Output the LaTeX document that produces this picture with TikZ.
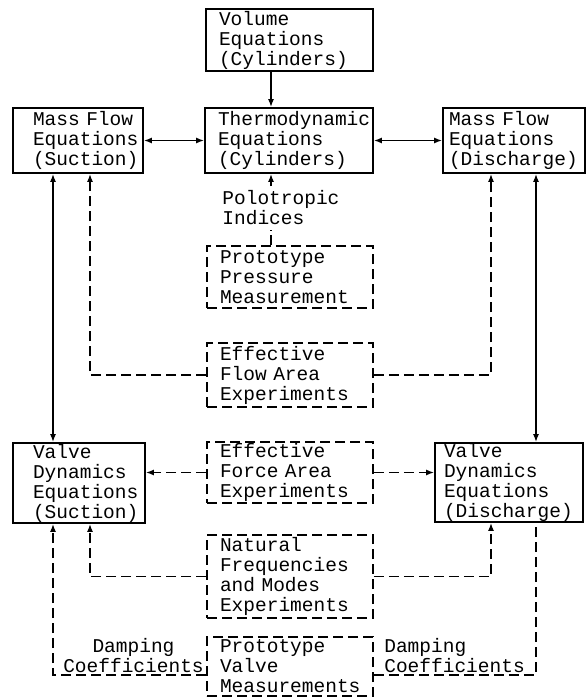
\documentclass[tikz,border=0pt]{standalone}
\usepackage{fontspec}
\setmonofont{Liberation Mono}
\usetikzlibrary{arrows.meta}
\begin{document}
\begin{tikzpicture}[x=0.5pt,y=-0.5pt,
  font=\ttfamily\fontsize{9.75pt}{10pt}\selectfont,
  >={Latex[length=4pt,width=3pt]},
  box/.style={draw, line width=0.9pt, align=left, inner xsep=6.5pt, inner ysep=0pt},
  dbox/.style={box, dash pattern=on 5pt off 2.5pt},
  link/.style={line width=0.7pt},
  dlink/.style={link, dash pattern=on 5pt off 2.5pt}]
\useasboundingbox (0,0) rectangle (587,697);
\coordinate (xa) at (53,0);
\coordinate (xb) at (90,0);
\coordinate (xc) at (271,0);
\coordinate (xd) at (491,0);
\coordinate (xe) at (536,0);
\coordinate (yd) at (0,675);
\node[box, text width=70.5pt, minimum height=31pt] (vol) at (289.5,40) {Volume\\Equations\\(Cylinders)};
\node[box, text width=71pt, minimum height=32.5pt] (thermo) at (289,140.5) {Thermodynamic\\Equations\\(Cylinders)};
\node[box, inner xsep=10pt, text width=45pt, minimum height=32.5pt] (mfs) at (78,140.5) {Mass~Flow\\Equations\\(Suction)};
\node[box, inner xsep=3pt, text width=65pt, minimum height=32.5pt] (mfd) at (514,140.5) {Mass~Flow\\Equations\\(Discharge)};
\node[align=left, inner sep=2pt, anchor=west] (poly) at (218,208) {Polotropic\\Indices};
\node[dbox, text width=70pt, minimum height=31pt] (ppm) at (290,277) {Prototype\\Pressure\\Measurement};
\node[dbox, text width=70pt, minimum height=32pt] (efa) at (290,375) {Effective\\Flow~Area\\Experiments};
\node[box, inner xsep=10pt, text width=46pt, minimum height=40pt] (vds) at (79,483) {Valve\\Dynamics\\Equations\\(Suction)};
\node[dbox, text width=70pt, minimum height=30.5pt] (efo) at (290,472.5) {Effective\\Force~Area\\Experiments};
\node[box, inner xsep=4.5pt, text width=65pt, minimum height=39.5pt] (vdd) at (509,482.5) {Valve\\Dynamics\\Equations\\(Discharge)};
\node[dbox, text width=70pt, minimum height=41.5pt] (nfm) at (290,576.5) {Natural\\Frequencies\\and~Modes\\Experiments};
\node[dbox, text width=70pt, minimum height=29.5pt] (pvm) at (290,666.5) {Prototype\\Valve\\Measurements};
\node[align=center, inner sep=1pt, anchor=south east] (dampl) at (pvm.west |- yd) {Damping\\Coefficients};
\node[align=left, inner xsep=5pt, inner ysep=1pt, anchor=south west] (dampr) at (pvm.east |- yd) {Damping\\Coefficients};
\draw[link,->] (vol.south -| xc) -- (thermo.north -| xc);
\draw[link,<->] (mfs.east) -- (thermo.west);
\draw[link,<->] (thermo.east) -- (mfd.west);
\draw[link,<->] (mfs.south -| xa) -- (vds.north -| xa);
\draw[link,<->] (mfd.south -| xe) -- (vdd.north -| xe);
\draw[dlink] (ppm.north -| xc) -- (poly.south -| xc);
\draw[dlink,->] (poly.north -| xc) -- (thermo.south -| xc);
\draw[dlink,->] (efa.west) -| (mfs.south -| xb);
\draw[dlink,->] (efa.east) -| (mfd.south -| xd);
\draw[dlink,->] (efo.west) -- (vds.east |- efo.west);
\draw[dlink,->] (efo.east) -- (vdd.west |- efo.east);
\draw[dlink,->] (nfm.west) -| (vds.south -| xb);
\draw[dlink,->] (nfm.east) -| (vdd.south -| xd);
\draw[dlink,->] (pvm.west |- yd) -| (vds.south -| xa);
\draw[dlink] (pvm.east |- yd) -| (vdd.south -| xe);
\end{tikzpicture}
\end{document}
